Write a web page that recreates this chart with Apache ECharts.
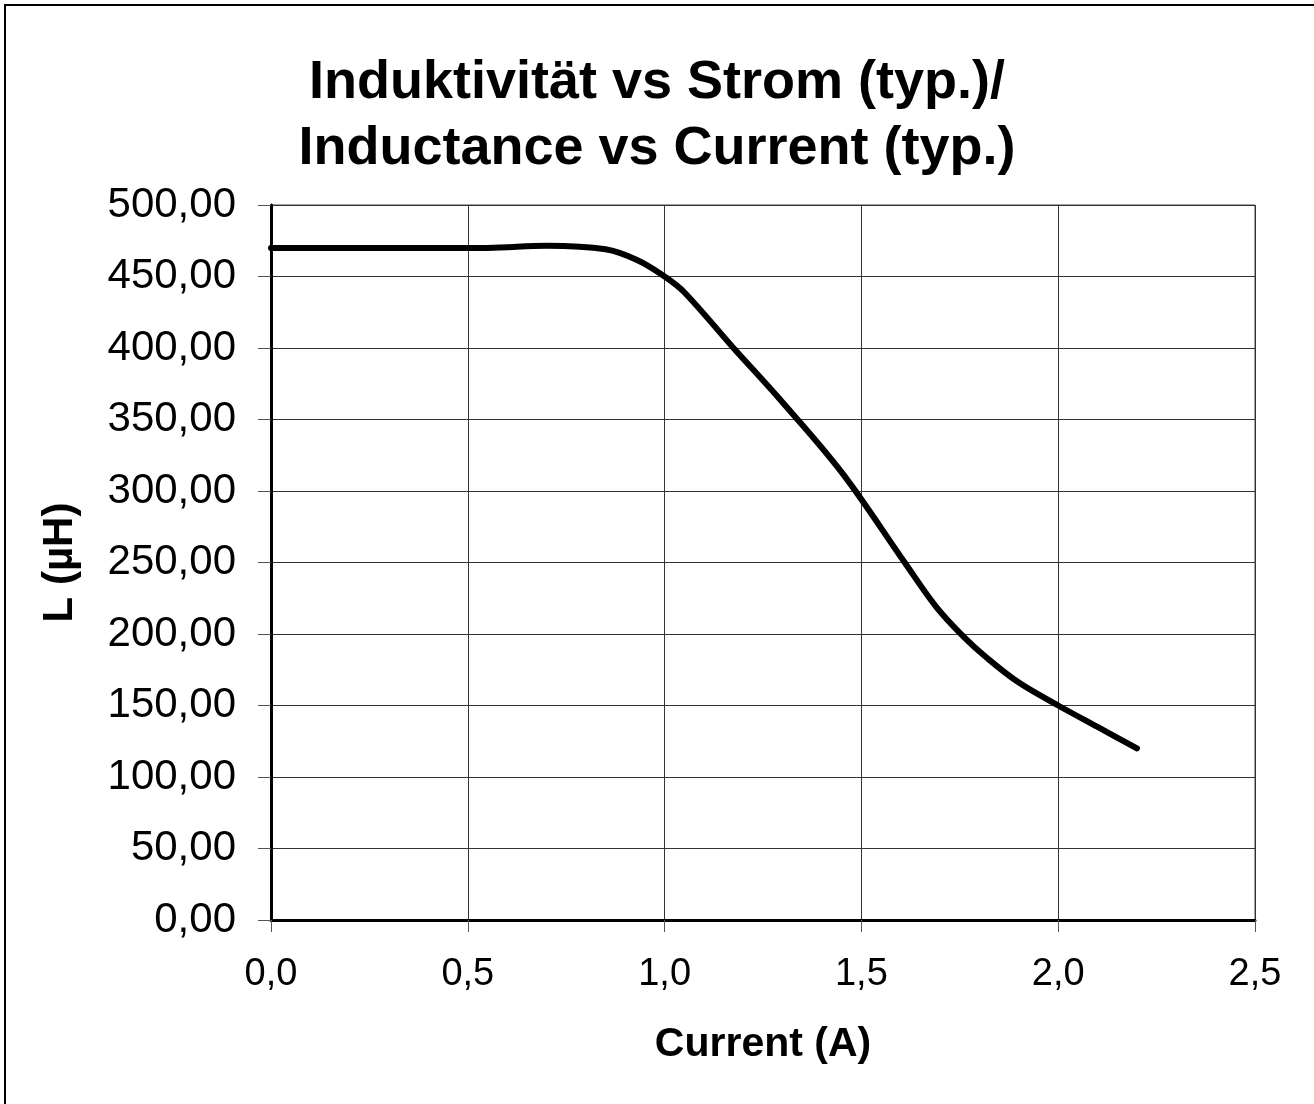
<!DOCTYPE html>
<html>
<head>
<meta charset="utf-8">
<script src="https://cdn.jsdelivr.net/npm/echarts@6/dist/echarts.min.js"></script>
<style>
  html, body { margin: 0; padding: 0; background: #fff; }
  #chart { width: 1314px; height: 1104px; }
</style>
</head>
<body>
<div id="chart"></div>
<script>
// measured curve, current in A, inductance in uH
var currentA = [0, 0.55, 0.7, 0.85, 0.93, 1.0, 1.05, 1.175, 1.29, 1.45, 1.61, 1.69, 1.76, 1.82, 1.9, 2.0, 2.1, 2.2];
var inductance = [470, 470, 471.5, 469, 461.5, 450, 439, 400, 365, 313, 250, 219, 198, 183, 166, 150, 135, 120];

var titleLines = ['Induktivität vs Strom (typ.)/', 'Inductance vs Current (typ.)'];
var xName = 'Current (A)';
var yName = 'L (µH)';

var points = currentA.map(function (x, i) { return [x, inductance[i]]; });

var font = '"Liberation Sans", Arial, sans-serif';
var myChart = echarts.init(document.getElementById('chart'));

var option = {
    animation: false,
    backgroundColor: '#fff',
    title: {
        text: titleLines.join('\n'),
        left: 'center',
        top: 45,
        textStyle: {
            fontFamily: font,
            fontSize: 54,
            fontWeight: 'bold',
            color: '#000',
            lineHeight: 66
        }
    },
    graphic: [{
        type: 'rect',
        shape: { x: 5, y: 5, width: 1400, height: 1200 },
        style: { fill: 'none', stroke: '#000', lineWidth: 2 },
        silent: true
    }, {
        // plot area frame (top / right)
        type: 'rect',
        shape: { x: 271, y: 205, width: 984, height: 715 },
        style: { fill: 'none', stroke: '#444', lineWidth: 1 },
        silent: true,
        z: 0
    }],
    grid: {
        left: 271,
        right: 59,
        top: 205,
        bottom: 184
    },
    xAxis: {
        type: 'value',
        min: 0,
        max: 2.5,
        interval: 0.5,
        name: xName,
        nameLocation: 'middle',
        nameGap: 104,
        nameTextStyle: {
            fontFamily: font,
            fontSize: 41,
            fontWeight: 'bold',
            color: '#000'
        },
        axisLine: { show: true, lineStyle: { color: '#000', width: 3 } },
        axisTick: { show: true, length: 12, lineStyle: { color: '#555', width: 1 } },
        axisLabel: {
            margin: 36,
            fontFamily: font,
            fontSize: 38,
            color: '#000',
            formatter: function (v) { return v.toFixed(1).replace('.', ','); }
        },
        splitLine: { show: true, lineStyle: { color: '#333', width: 1 } }
    },
    yAxis: {
        type: 'value',
        min: 0,
        max: 500,
        interval: 50,
        name: yName,
        nameLocation: 'middle',
        nameGap: 190,
        nameTextStyle: {
            fontFamily: font,
            fontSize: 42,
            fontWeight: 'bold',
            color: '#000'
        },
        axisLine: { show: true, lineStyle: { color: '#000', width: 3 } },
        axisTick: { show: true, length: 13, lineStyle: { color: '#555', width: 1 } },
        axisLabel: {
            margin: 35,
            fontFamily: font,
            fontSize: 42,
            color: '#000',
            formatter: function (v) { return v.toFixed(2).replace('.', ','); }
        },
        splitLine: { show: true, lineStyle: { color: '#333', width: 1 } }
    },
    series: [{
        type: 'line',
        data: points,
        smooth: 0.35,
        showSymbol: false,
        lineStyle: { color: '#000', width: 6, cap: 'round' },
        itemStyle: { color: '#000' }
    }]
};

myChart.setOption(option);
</script>
</body>
</html>
